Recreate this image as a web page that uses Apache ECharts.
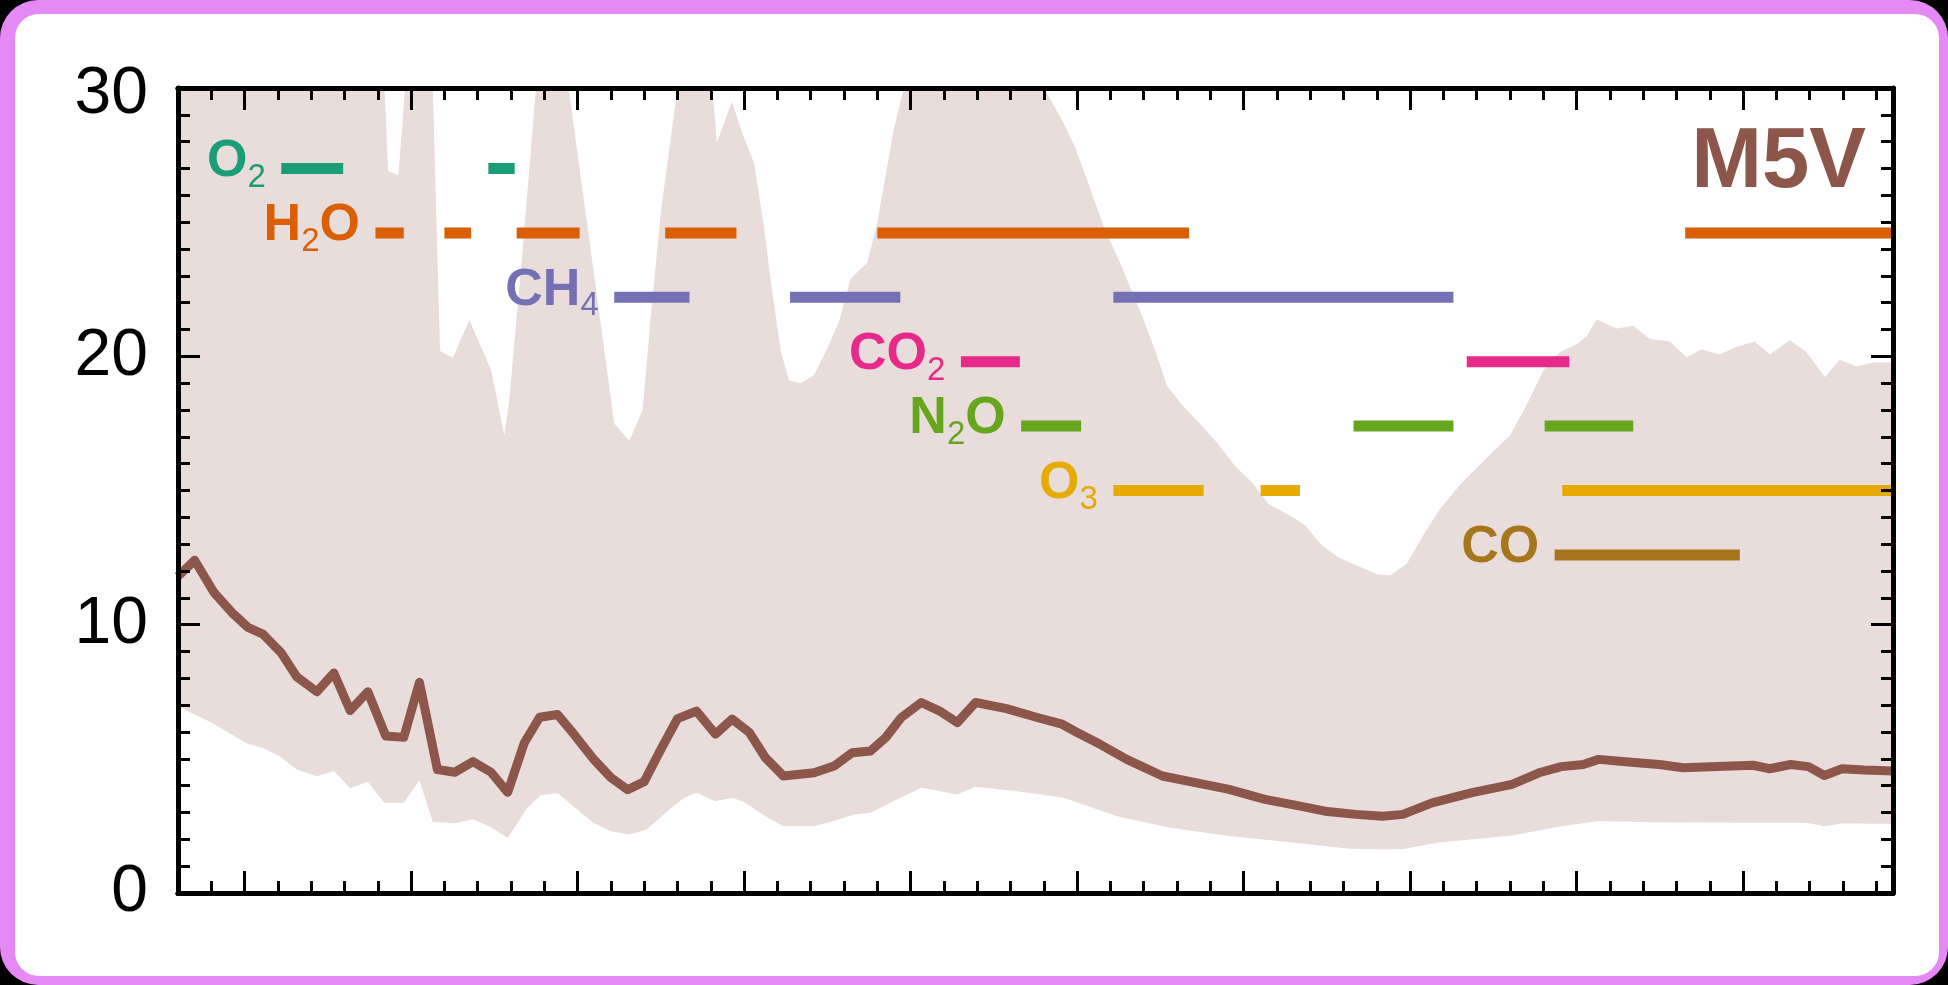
<!DOCTYPE html>
<html>
<head>
<meta charset="utf-8">
<script src="https://cdn.jsdelivr.net/npm/echarts@6/dist/echarts.min.js"></script>
<style>
  html, body { margin: 0; padding: 0; background: #000; }
  #frame { position: absolute; left: 0; top: 0; width: 1948px; height: 985px; border-radius: 38px; background: #e589f5; }
  #inner { position: absolute; left: 15px; top: 14px; right: 9px; bottom: 9px; border-radius: 24px; background: #fff; }
  #chart { position: absolute; left: 0; top: 0; width: 1948px; height: 985px; }
</style>
</head>
<body>
<div id="frame"><div id="inner"></div></div>
<div id="chart"></div>
<script>
// ---------- data (wavelength in micron, value) ----------
const yTicks = [0, 10, 20, 30];
const xMajorTicks = [0.5, 1.0, 1.5, 2.0, 2.5, 3.0, 3.5, 4.0, 4.5, 5.0];

const bandUpper = [
  [0.30, 30], [0.92, 30], [0.931, 26.9], [0.962, 26.75], [0.982, 30],
  [1.065, 30], [1.087, 20.2], [1.125, 19.95], [1.175, 21.35], [1.24, 19.5], [1.28, 17.05], [1.295, 18.4], [1.335, 24.0], [1.375, 30],
  [1.473, 30], [1.54, 23.9], [1.61, 17.5], [1.655, 16.85], [1.695, 18.0], [1.72, 21.5], [1.75, 25.4], [1.80, 30],
  [1.905, 30], [1.918, 27.95], [1.963, 29.5], [1.995, 28.3], [2.03, 27.2], [2.06, 24.8], [2.08, 22.8], [2.11, 20.2],
  [2.135, 19.1], [2.17, 19.0], [2.21, 19.3], [2.25, 20.3], [2.285, 21.3], [2.32, 22.9], [2.37, 23.5], [2.40, 25.0], [2.45, 28.5], [2.48, 30],
  [2.90, 30], [2.955, 28.8], [2.995, 27.76], [3.035, 26.4], [3.075, 25.0], [3.135, 23.3], [3.195, 21.5], [3.235, 20.2],
  [3.27, 18.9], [3.315, 18.2], [3.375, 17.4], [3.415, 16.85], [3.475, 15.9], [3.525, 15.3], [3.575, 14.5], [3.635, 14.1],
  [3.685, 13.7], [3.735, 12.95], [3.785, 12.5], [3.845, 12.18], [3.9, 11.88], [3.94, 11.83], [3.99, 12.27], [4.04, 13.35],
  [4.09, 14.32], [4.155, 15.29], [4.21, 15.97], [4.25, 16.46], [4.30, 17.05], [4.35, 18.2], [4.40, 19.48], [4.45, 20.16],
  [4.50, 20.45], [4.53, 20.75], [4.56, 21.37], [4.62, 21.04], [4.67, 21.14], [4.72, 20.65], [4.78, 20.55], [4.83, 19.97],
  [4.875, 20.26], [4.93, 20.07], [4.98, 20.36], [5.035, 20.55], [5.08, 20.07], [5.14, 20.6], [5.19, 20.16], [5.245, 19.23],
  [5.29, 19.87], [5.34, 19.62], [5.39, 19.77], [5.45, 19.77]
];

const bandLower = [
  [0.30, 6.95], [0.40, 6.35], [0.51, 5.55], [0.555, 5.4], [0.605, 5.1], [0.657, 4.6], [0.717, 4.35], [0.768, 4.55],
  [0.817, 3.9], [0.87, 4.15], [0.92, 3.35], [0.978, 3.35], [1.025, 4.2], [1.065, 2.65], [1.131, 2.6], [1.186, 2.75],
  [1.24, 2.45], [1.29, 2.05], [1.35, 3.2], [1.39, 3.65], [1.44, 3.72], [1.547, 2.62], [1.60, 2.3], [1.655, 2.18],
  [1.707, 2.37], [1.775, 3.1], [1.82, 3.55], [1.857, 3.74], [1.914, 3.42], [1.964, 3.55], [2.0, 3.39], [2.064, 2.86],
  [2.118, 2.49], [2.21, 2.49], [2.27, 2.68], [2.33, 2.93], [2.38, 2.99], [2.46, 3.49], [2.532, 3.92], [2.586, 3.8],
  [2.64, 3.67], [2.695, 3.96], [2.815, 3.8], [2.96, 3.55], [3.12, 2.86], [3.28, 2.43], [3.456, 2.12], [3.655, 1.87],
  [3.817, 1.65], [3.918, 1.62], [3.98, 1.64], [4.08, 1.87], [4.306, 2.14], [4.454, 2.49], [4.566, 2.68], [4.72, 2.64],
  [4.99, 2.62], [5.19, 2.62], [5.244, 2.49], [5.297, 2.59], [5.45, 2.58]
];

const median = [
  [0.30, 11.8], [0.35, 12.4], [0.408, 11.2], [0.462, 10.45], [0.51, 9.9], [0.555, 9.65], [0.61, 8.95], [0.657, 8.05],
  [0.717, 7.5], [0.768, 8.2], [0.817, 6.8], [0.87, 7.5], [0.924, 5.85], [0.978, 5.8], [1.025, 7.85], [1.079, 4.6],
  [1.131, 4.5], [1.186, 4.9], [1.24, 4.5], [1.29, 3.75], [1.34, 5.6], [1.386, 6.55], [1.44, 6.65], [1.49, 5.9],
  [1.547, 5.0], [1.60, 4.3], [1.65, 3.85], [1.70, 4.15], [1.75, 5.35], [1.80, 6.5], [1.857, 6.78], [1.914, 5.92],
  [1.964, 6.48], [2.016, 5.98], [2.064, 5.04], [2.118, 4.36], [2.21, 4.48], [2.27, 4.73], [2.325, 5.23], [2.379, 5.29],
  [2.425, 5.79], [2.472, 6.54], [2.532, 7.1], [2.586, 6.79], [2.64, 6.35], [2.695, 7.1], [2.788, 6.87], [2.88, 6.54],
  [2.955, 6.29], [3.0, 5.98], [3.069, 5.54], [3.149, 4.98], [3.256, 4.36], [3.404, 3.99], [3.456, 3.86], [3.564, 3.49],
  [3.67, 3.24], [3.744, 3.05], [3.837, 2.93], [3.918, 2.86], [3.978, 2.93], [4.066, 3.36], [4.186, 3.74], [4.306, 4.05],
  [4.387, 4.48], [4.454, 4.71], [4.52, 4.79], [4.566, 4.98], [4.655, 4.88], [4.748, 4.79], [4.82, 4.67], [4.922, 4.71],
  [5.03, 4.76], [5.08, 4.63], [5.143, 4.79], [5.196, 4.71], [5.244, 4.38], [5.297, 4.63], [5.364, 4.58], [5.45, 4.55]
];

// molecular bands: [start, end] wavelength ranges
const gasNames   = ['O2', 'H2O', 'CH4', 'CO2', 'N2O', 'O3', 'CO'];
const gasLevels  = [27.0, 24.6, 22.2, 19.8, 17.4, 15.0, 12.6];
const gasColors  = ['#1b9e77', '#d95f02', '#7570b3', '#e7298a', '#66a61e', '#e6ab02', '#a6761d'];
const gasLabels  = ['{b|O}{s|2}', '{b|H}{s|2}{b|O}', '{b|CH}{s|4}', '{b|CO}{s|2}', '{b|N}{s|2}{b|O}', '{b|O}{s|3}', '{b|CO}'];
const bandsO2  = [[0.61, 0.796], [1.232, 1.311]];
const bandsH2O = [[0.893, 0.978], [1.10, 1.18], [1.317, 1.506], [1.763, 1.977], [2.40, 3.336], [4.826, 5.45]];
const bandsCH4 = [[1.61, 1.836], [2.138, 2.469], [3.109, 4.13]];
const bandsCO2 = [[2.651, 2.828], [4.17, 4.478]];
const bandsN2O = [[2.832, 3.012], [3.83, 4.13], [4.404, 4.67]];
const bandsO3  = [[3.109, 3.38], [3.551, 3.669], [4.457, 5.45]];
const bandsCO  = [[4.434, 4.99]];
const gasBands = [bandsO2, bandsH2O, bandsCH4, bandsCO2, bandsN2O, bandsO3, bandsCO];

const starName = 'M5V';

// ---------- build option ----------
const FONT = '"Liberation Sans", Arial, Helvetica, sans-serif';
const BROWN = '#8c564b';
const BAND = '#e8dddb';
const X_MIN = 0.3, X_MAX = 5.45;

function xAxisCfg(pos, major) {
  return {
    type: 'value', position: pos, min: X_MIN, max: X_MAX, interval: 0.1, z: 10,
    axisLine: { show: true, onZero: false, lineStyle: { color: '#000', width: 5 } },
    axisTick: major
      ? { show: true, inside: true, length: 22, lineStyle: { color: '#000', width: 3 }, customValues: xMajorTicks }
      : { show: true, inside: true, length: 12, lineStyle: { color: '#000', width: 3 } },
    axisLabel: { show: false },
    splitLine: { show: false }
  };
}
function yAxisCfg(pos, labels) {
  return {
    type: 'value', position: pos, min: 0, max: 30, interval: 10, z: 10,
    axisLine: { show: true, onZero: false, lineStyle: { color: '#000', width: 5 } },
    axisTick: { show: true, inside: true, length: 22, lineStyle: { color: '#000', width: 3 } },
    minorTick: { show: true, splitNumber: 10, length: 12, lineStyle: { color: '#000', width: 3 } },
    axisLabel: labels ? { show: true, fontFamily: FONT, fontSize: 66, color: '#000', margin: 30,
      customValues: yTicks,
      formatter: v => (v === 30 ? '{t|' + v + '}' : '{n|' + v + '}'),
      rich: {
        n: { fontFamily: FONT, fontSize: 66, color: '#000' },
        t: { fontFamily: FONT, fontSize: 66, color: '#000', padding: [14, 0, 0, 0] }
      } } : { show: false },
    splitLine: { show: false }, minorSplitLine: { show: false }
  };
}

const series = [
  { name: 'upper', type: 'line', data: bandUpper, showSymbol: false, z: 1,
    lineStyle: { width: 0 }, areaStyle: { color: BAND, opacity: 1, origin: 'start' }, silent: true },
  { name: 'lower', type: 'line', data: bandLower, showSymbol: false, z: 1,
    lineStyle: { width: 0 }, areaStyle: { color: '#ffffff', opacity: 1, origin: 'start' }, silent: true },
  { name: 'median', type: 'line', data: median, showSymbol: false, z: 3,
    lineStyle: { color: BROWN, width: 9, join: 'round' } }
];

gasNames.forEach((g, i) => {
  const d = [];
  gasBands[i].forEach(b => { d.push([b[0], gasLevels[i]], [b[1], gasLevels[i]], [b[1], '-']); });
  series.push({ name: g, type: 'line', data: d, showSymbol: false, connectNulls: false, z: 4,
    lineStyle: { color: gasColors[i], width: 11, cap: 'butt' } });
  series.push({ name: g + ' label', type: 'scatter', z: 5, symbolSize: 1,
    itemStyle: { color: 'rgba(0,0,0,0)', opacity: 1 },
    data: [[gasBands[i][0][0], gasLevels[i]]],
    label: { show: true, position: 'left', distance: 15, offset: [0, -7], opacity: 1,
      formatter: gasLabels[i],
      rich: {
        b: { fontFamily: FONT, fontWeight: 'bold', fontSize: 52, color: gasColors[i], lineHeight: 56 },
        s: { fontFamily: FONT, fontWeight: 'normal', fontSize: 33, color: gasColors[i], lineHeight: 30, padding: [32, 0, 0, 0] }
      } } });
});

const option = {
  animation: false,
  backgroundColor: 'transparent',
  grid: { left: 178, top: 88, right: 55, bottom: 92, containLabel: false },
  xAxis: [xAxisCfg('bottom', false), xAxisCfg('bottom', true), xAxisCfg('top', false), xAxisCfg('top', true)],
  yAxis: [yAxisCfg('left', true), yAxisCfg('right', false)],
  graphic: [{ type: 'text', x: 1866, y: 164, z: 20,
    style: { text: starName, textAlign: 'right', textVerticalAlign: 'middle',
      font: 'bold 85px ' + FONT, fill: BROWN } }],
  series: series
};

const chart = echarts.init(document.getElementById('chart'), null, { renderer: 'canvas' });
chart.setOption(option);
</script>
</body>
</html>
